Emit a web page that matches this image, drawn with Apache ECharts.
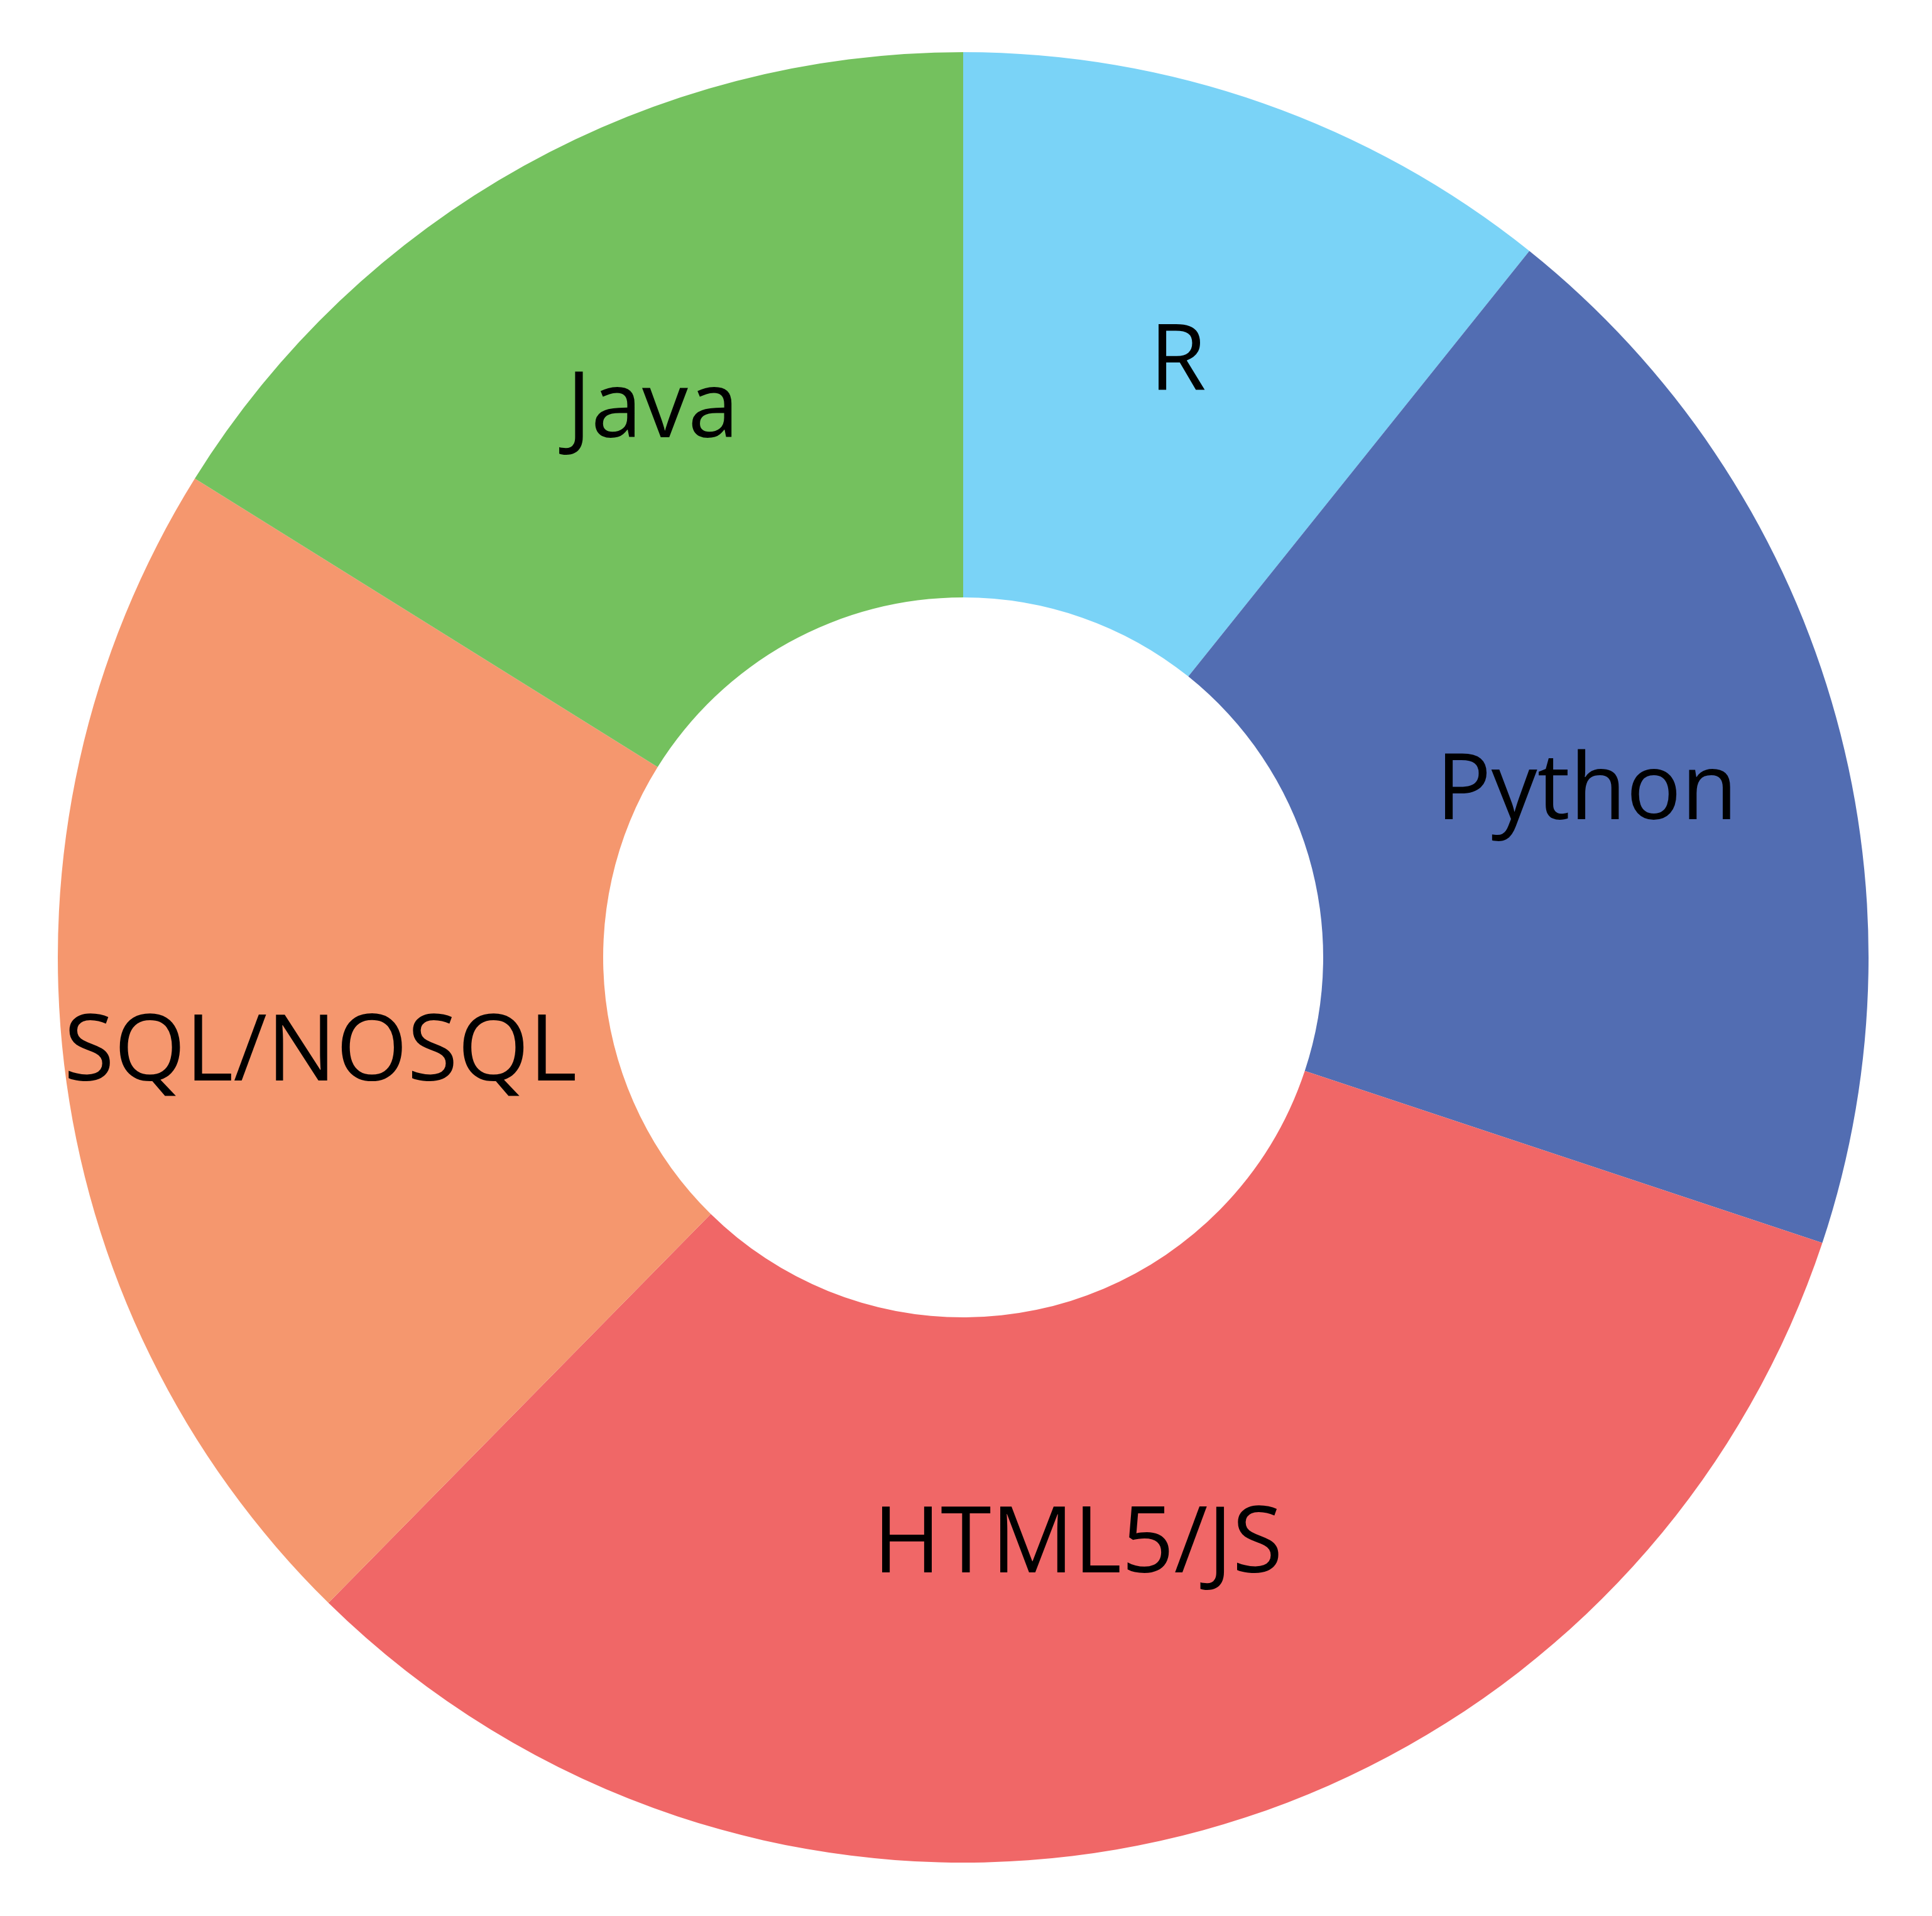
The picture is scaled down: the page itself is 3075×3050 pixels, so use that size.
<!DOCTYPE html>
<html>
<head>
<meta charset="utf-8">
<script src="https://cdn.jsdelivr.net/npm/echarts@6/dist/echarts.min.js"></script>
<style>
html,body{margin:0;padding:0;background:#fff;}
#chart{width:3075px;height:3050px;}
</style>
</head>
<body>
<div id="chart"></div>
<script>
var categories = ['R', 'Python', 'HTML5/JS', 'SQL/NOSQL', 'Java'];
var values = [10, 18, 30, 20, 15];
var colors = ['#7ad3f7', '#526db2', '#f06767', '#f5976e', '#74c15e'];
// small label nudges (px) to match the reference text placement
var labelOffsets = [[7, 8], [24, 24], [-54, -44], [-20, 35], [-4, 13]];

var data = categories.map(function (c, i) {
  return {
    name: c,
    value: values[i],
    itemStyle: { color: colors[i] },
    label: { offset: labelOffsets[i] }
  };
});

var chart = echarts.init(document.getElementById('chart'), null, { renderer: 'canvas' });
chart.setOption({
  animation: false,
  backgroundColor: '#ffffff',
  series: [{
    type: 'pie',
    center: [1533, 1524],
    radius: [573, 1441],
    startAngle: 90,
    clockwise: true,
    avoidLabelOverlap: false,
    itemStyle: { borderWidth: 0 },
    label: {
      show: true,
      position: 'inside',
      formatter: '{b}',
      color: '#000000',
      fontFamily: 'Open Sans',
      fontSize: 146,
      fontWeight: 'normal'
    },
    labelLine: { show: false },
    emphasis: { disabled: true },
    data: data
  }]
});
</script>
</body>
</html>
